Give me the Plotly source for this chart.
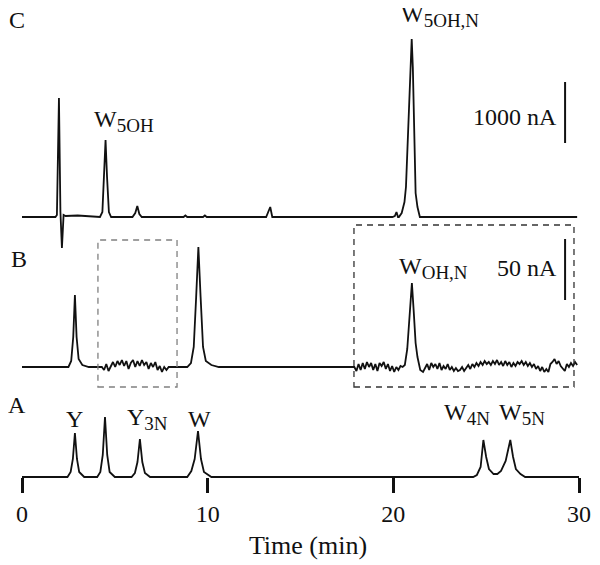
import numpy as np
import plotly.graph_objects as go

# ---------------- data ----------------
# Trace A: standards (time in min, signal in relative units)
time_A = [0, 2.45, 2.62, 2.74, 2.85, 2.96, 3.08, 3.35,
          4.05, 4.22, 4.35, 4.47, 4.59, 4.72, 5.0,
          5.9, 6.08, 6.22, 6.35, 6.48, 6.62, 6.9,
          8.9, 9.12, 9.3, 9.48, 9.64, 9.8, 10.2,
          24.3, 24.5, 24.7, 24.85, 25.0, 25.15, 25.4, 25.6, 25.8, 26.05, 26.3, 26.45, 26.6, 26.85, 27.1,
          30.0]
signal_A = [0, 0, 5, 18, 44, 18, 5, 0,
            0, 5, 22, 60, 22, 5, 0,
            0, 4, 15, 38, 15, 4, 0,
            0, 6, 18, 46, 18, 5, 0,
            0, 2, 10, 37, 20, 8, 3, 3, 6, 16, 37, 20, 8, 3, 0,
            0]

# Trace B: peaks + noisy windows
time_B_seg1 = [0, 2.5, 2.65, 2.76, 2.85, 2.94, 3.05, 3.25, 3.6, 4.2]
signal_B_seg1 = [0, 0, 6, 30, 72, 30, 8, 2, 0, 0]
noise_B_win1 = [0, -3, 3, -4, 1, 5, 0, 6, 2, 7, 1, 6, -2, 4, 7, 0,
                6, 1, 7, 2, 5, -2, 4, 0, 5, -3, 1, -5, 0, -3, 0]
time_B_seg2 = [8.0, 8.9, 9.1, 9.25, 9.38, 9.5, 9.62, 9.75, 9.9, 10.2, 10.6, 17.8]
signal_B_seg2 = [0, 0, 4, 20, 70, 120, 70, 20, 6, 2, 0, 0]
noise_B_win2a = [0, -4, 3, -3, 4, -2, 5, 0, 4, -3, 3, -4, 4, 1, 5, -2,
                 3, -4, 1, -5, 0, -3, 1, 0]
time_B_peak = [20.62, 20.75, 20.88, 21.0, 21.1, 21.2, 21.3, 21.45]
signal_B_peak = [2, 18, 55, 84, 55, 24, 10, -3]
noise_B_win2b = [-5, -1, 3, -3, 4, 0, 3, -2, 4, -3, 1, -2, 3, -3, 0, -4, -1, -4,
                 -3, 0, -4, -1, 2, -2, 3, 0, 4, 1, 5, 2, 6, 3, 5, 2, 6, 3,
                 7, 2, 5, 1, 6, 2, 5, 0, 4, 1, 5, 3, 6, 2, 5, 1, 4, 0,
                 3, -2, 1, -4, 0, -5, -2, -5, 3, 5, 8, 3, 6, 1, -1, -4, 3, 0, 4, 1, 5, 2]

# Trace C
time_C = [0, 1.80, 1.88, 1.99, 2.07, 2.15, 2.24, 2.35, 3.0, 3.5, 4.0,
          4.2, 4.33, 4.43, 4.5, 4.58, 4.68, 4.8,
          5.95, 6.1, 6.21, 6.32, 6.45,
          8.7, 8.8, 8.9, 9.75, 9.85, 9.95,
          13.15, 13.3, 13.37, 13.48,
          19.95, 20.08, 20.17, 20.25,
          20.3, 20.45, 20.6, 20.68, 20.8, 20.92, 20.99, 21.05, 21.12, 21.2, 21.3, 21.43,
          29.9]
signal_C = [0, 0, 2, 119, 5, -31, 2, 1, 1.5, 1, 0,
            0, 5, 40, 77, 40, 5, 0,
            0, 4, 11, 3, 0,
            0, 1.5, 0, 0, 1.5, 0,
            0, 6, 10, 0,
            0, 1, 5, 0,
            0, 4, 15, 30, 90, 140, 178, 150, 80, 24, 10, 0,
            0]

tick_vals = [0, 10, 20, 30]
tick_text = ["0", "10", "20", "30"]

# ---------------- layout helpers ----------------
FONT = "Liberation Serif"
base_A, base_B, base_C = 88, 198, 348      # vertical offsets of the three traces
LINE = dict(color="#111111", width=1.8)
PX_PER_MIN = 557 / 30
PAGE_OFFSET = 8  # browser body margin

time_B = (time_B_seg1
          + list(np.linspace(4.3, 7.9, len(noise_B_win1)))
          + time_B_seg2
          + list(np.linspace(17.9, 20.5, len(noise_B_win2a)))
          + time_B_peak
          + list(np.linspace(21.6, 29.9, len(noise_B_win2b))))
signal_B = (signal_B_seg1 + noise_B_win1 + signal_B_seg2 + noise_B_win2a
            + signal_B_peak + noise_B_win2b)

fig = go.Figure()
for t, s, b, name in [(time_C, signal_C, base_C, "C"),
                      (time_B, signal_B, base_B, "B"),
                      (time_A, signal_A, base_A, "A")]:
    fig.add_trace(go.Scatter(x=t, y=[v + b for v in s], mode="lines",
                             line=LINE, name=name, showlegend=False,
                             hoverinfo="skip"))

# dashed boxes
fig.add_shape(type="rect", xref="x", yref="y", x0=4.09, x1=8.35, y0=178, y1=325,
              line=dict(color="#808080", width=1.3, dash="6px,5px"))
fig.add_shape(type="rect", xref="x", yref="y", x0=17.88, x1=29.73, y0=178, y1=340,
              line=dict(color="#333333", width=1.3, dash="6px,5px"))
# scale bars
fig.add_shape(type="line", xref="x", yref="y", x0=29.25, x1=29.25, y0=422, y1=483,
              line=dict(color="#111111", width=2))
fig.add_shape(type="line", xref="x", yref="y", x0=29.25, x1=29.25, y0=265, y1=326,
              line=dict(color="#111111", width=2))

def sub(t):
    return "<sub><span style='font-size:19px'>%s</span></sub>" % t

ann = [
    ("C", -0.27, 545, "center"),
    ("B", -0.16, 306, "center"),
    ("A", -0.27, 160, "center"),
    ("W" + sub("5OH"), 3.82, 444, "left"),
    ("W" + sub("5OH,N"), 20.36, 549, "left"),
    ("1000 nA", 28.87, 448, "right"),
    ("W" + sub("OH,N"), 20.25, 297, "left"),
    ("50 nA", 28.87, 297, "right"),
    ("Y", 2.32, 146, "left"),
    ("Y" + sub("3N"), 5.6, 146, "left"),
    ("W", 8.9, 146, "left"),
    ("W" + sub("4N"), 22.67, 151, "left"),
    ("W" + sub("5N"), 25.63, 151, "left"),
]
for text, x, y, xa in ann:
    fig.add_annotation(x=x, y=y, xref="x", yref="y", text=text, showarrow=False,
                       xanchor=xa, yanchor="middle", borderpad=0,
                       font=dict(family=FONT, size=24, color="#111111"))

x_lo = (PAGE_OFFSET - 22) / PX_PER_MIN
x_hi = (PAGE_OFFSET + 600 - 22) / PX_PER_MIN

fig.update_layout(
    width=600, height=565,
    margin=dict(l=0, r=0, t=0, b=0),
    paper_bgcolor="white", plot_bgcolor="white",
    xaxis=dict(range=[x_lo, x_hi], showgrid=False, zeroline=False,
               showline=False, ticks="outside", tickvals=tick_vals, ticktext=tick_text,
               ticklen=15, tickwidth=3, tickcolor="#111111",
               anchor="free", position=(88 + PAGE_OFFSET) / 565,
               tickfont=dict(family=FONT, size=24, color="#111111"),
               title=dict(text="Time (min)", font=dict(family=FONT, size=26, color="#111111"),
                          standoff=10)),
    yaxis=dict(range=[-PAGE_OFFSET, 565 - PAGE_OFFSET], visible=False),
)

fig.write_html("out.html")
